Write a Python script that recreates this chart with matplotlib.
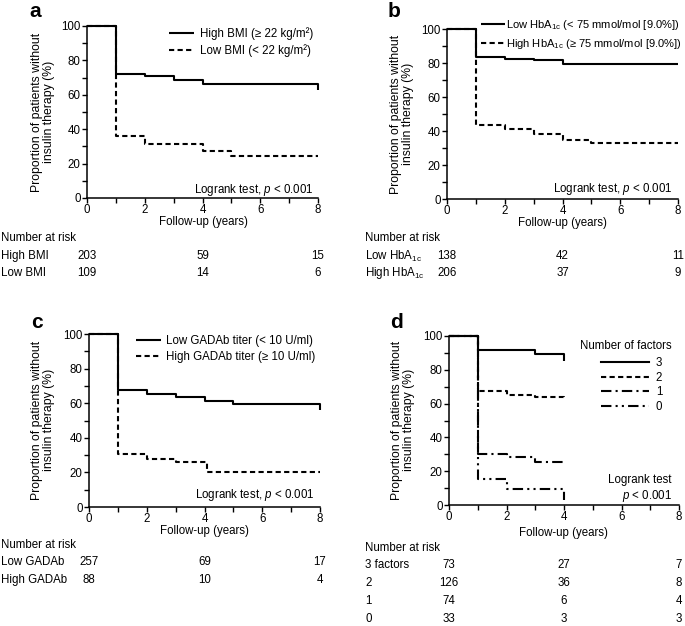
import matplotlib
matplotlib.use("Agg")
import matplotlib.pyplot as plt
from matplotlib.ticker import MultipleLocator
from matplotlib.transforms import blended_transform_factory
from matplotlib.lines import Line2D

plt.rcParams['font.family'] = ['Liberation Sans', 'DejaVu Sans']
plt.rcParams['mathtext.fontset'] = 'custom'
plt.rcParams['mathtext.rm'] = 'Liberation Sans'
plt.rcParams['mathtext.it'] = 'Liberation Sans:italic'
plt.rcParams['mathtext.bf'] = 'Liberation Sans:bold'

FS = 8.3
TFS = 8.3
YFS = 8.8
W, H = 685, 626

# ---------------- data ----------------
# Panel a (BMI)
a_high_t = [0, 1, 2, 3, 4, 8, 8]
a_high_s = [100, 72, 71, 68.5, 66.5, 66.5, 63]
a_low_t = [0, 1, 2, 4, 5, 8]
a_low_s = [100, 36, 31.5, 27.5, 24.5, 24.5]
a_risk_times = [0, 4, 8]
a_risk_labels = ["High BMI", "Low BMI"]
a_risk = [[203, 59, 15], [109, 14, 6]]

# Panel b (HbA1c)
b_low_t = [0, 1, 2, 3, 4, 8]
b_low_s = [100, 83.5, 82.5, 81.5, 79.5, 79.5]
b_high_t = [0, 1, 2, 3, 4, 5, 8]
b_high_s = [100, 43.5, 41, 38.5, 34.5, 33, 33]
b_risk_times = [0, 4, 8]
b_risk_labels = [r"Low HbA$_{\mathrm{1c}}$", r"High HbA$_{\mathrm{1c}}$"]
b_risk = [[138, 42, 11], [206, 37, 9]]

# Panel c (GADAb)
c_low_t = [0, 1, 2, 3, 4, 5, 8, 8]
c_low_s = [100, 67.5, 65.5, 63.5, 61, 59.5, 59.5, 56]
c_high_t = [0, 1, 2, 3, 4.1, 8]
c_high_s = [100, 30.5, 28, 26, 20.5, 20.5]
c_risk_times = [0, 4, 8]
c_risk_labels = ["Low GADAb", "High GADAb"]
c_risk = [[257, 69, 17], [88, 10, 4]]

# Panel d (number of factors)
d_t = {
    "3": [0, 1, 3, 4, 4],
    "2": [0, 1, 2, 3, 4, 4],
    "1": [0, 1, 2, 3, 4],
    "0": [0, 1, 2, 4, 4],
}
d_s = {
    "3": [100, 91.5, 89.5, 89.5, 85.5],
    "2": [100, 67.5, 65, 64, 64, 62.5],
    "1": [100, 30, 28.5, 25.5, 25.5],
    "0": [100, 15.5, 9.5, 9.5, 3],
}
d_risk_times = [0, 4, 8]
d_risk_labels = ["3 factors", "2", "1", "0"]
d_risk = [[73, 27, 7], [126, 36, 8], [74, 6, 4], [33, 3, 3]]

# ---------------- styles ----------------
LW = 1.5
DASH = (0, (2.5, 1.6))
DASHDOT = (0, (5, 2, 1, 2))
DASHDOTDOT = (0, (5, 2, 1, 2, 1, 2))

fig = plt.figure(figsize=(W / 100, H / 100), dpi=100)


def fx(x):
    return x / W


def fy(y):
    return 1 - y / H


def make_ax(x0, x1, y0, y1):
    ax = fig.add_axes([fx(x0), fy(y1), fx(x1) - fx(x0), (y1 - y0) / H])
    ax.set_xlim(0, 8)
    ax.set_ylim(0, 100)
    for s in ['top', 'right']:
        ax.spines[s].set_visible(False)
    for s in ['left', 'bottom']:
        ax.spines[s].set_linewidth(1.1)
    ax.xaxis.set_major_locator(MultipleLocator(2))
    ax.xaxis.set_minor_locator(MultipleLocator(1))
    ax.yaxis.set_major_locator(MultipleLocator(20))
    ax.yaxis.set_minor_locator(MultipleLocator(10))
    ax.tick_params(which='both', direction='out', length=3.5, width=1.0,
                   labelsize=TFS, pad=1.0)
    return ax


def common_text(ax, letter, lx, ly, ylx, yly, xlx, xly):
    fig.text(fx(lx), fy(ly), letter, fontsize=15, fontweight='bold',
             ha='left', va='top')
    fig.text(fx(ylx), fy(yly), "Proportion of patients without\ninsulin therapy (%)",
             rotation=90, ha='center', va='center', multialignment='center',
             fontsize=YFS, linespacing=1.05)
    fig.text(fx(xlx), fy(xly), "Follow-up (years)", ha='center', va='center',
             fontsize=TFS)


def risk_table(ax, labx, y_head, y_rows, labels, times, values):
    fig.text(fx(labx), fy(y_head), "Number at risk", ha='left', va='center',
             fontsize=FS)
    tr = blended_transform_factory(ax.transData, fig.transFigure)
    for lab, yy, vals in zip(labels, y_rows, values):
        fig.text(fx(labx), fy(yy), lab, ha='left', va='center', fontsize=FS)
        for t, v in zip(times, vals):
            fig.text(t, fy(yy), str(v), ha='center', va='center', fontsize=FS,
                     transform=tr)


def step(ax, t, s, ls, label=None, z=2):
    ax.plot(t, s, drawstyle='steps-post', color='black', lw=LW, ls=ls,
            label=label, zorder=z, clip_on=False, solid_capstyle='butt',
            dash_capstyle='butt')


# ---------------- panel a ----------------
axa = make_ax(87, 318, 26, 198)
step(axa, a_low_t, a_low_s, DASH, "Low BMI (< 22 kg/m²)", z=2)
step(axa, a_high_t, a_high_s, '-', "High BMI (≥ 22 kg/m²)", z=3)
h, l = axa.get_legend_handles_labels()
axa.legend(h[::-1], l[::-1], loc='upper left',
           bbox_to_anchor=(fx(169), fy(27)), bbox_transform=fig.transFigure,
           frameon=False, fontsize=FS, handlelength=2.2, handletextpad=0.45,
           labelspacing=0.4, borderpad=0, borderaxespad=0)
fig.text(fx(313), fy(190), "Logrank test, $p$ < 0.001", ha='right',
         va='center', fontsize=FS)
common_text(axa, "a", 29, 2, 43, 112, 203, 222)
risk_table(axa, 1, 238, [256, 273], a_risk_labels, a_risk_times, a_risk)

# ---------------- panel b ----------------
axb = make_ax(447, 678, 29, 199)
step(axb, b_high_t, b_high_s, DASH, r"High HbA$_{\mathrm{1c}}$ (≥ 75 mmol/mol [9.0%])", z=2)
step(axb, b_low_t, b_low_s, '-', r"Low HbA$_{\mathrm{1c}}$ (< 75 mmol/mol [9.0%])", z=3)
h, l = axb.get_legend_handles_labels()
axb.legend(h[::-1], l[::-1], loc='upper left',
           bbox_to_anchor=(fx(481), fy(18)), bbox_transform=fig.transFigure,
           frameon=False, fontsize=8.0, handlelength=2.15, handletextpad=0.12,
           labelspacing=0.45, borderpad=0, borderaxespad=0)
fig.text(fx(672), fy(189), "Logrank test, $p$ < 0.001", ha='right',
         va='center', fontsize=FS)
common_text(axb, "b", 388, 2, 402, 114, 562, 223)
risk_table(axb, 365, 238, [256, 273], b_risk_labels, b_risk_times, b_risk)

# ---------------- panel c ----------------
axc = make_ax(89, 320, 334, 507)
step(axc, c_high_t, c_high_s, DASH, "High GADAb titer (≥ 10 U/ml)", z=2)
step(axc, c_low_t, c_low_s, '-', "Low GADAb titer (< 10 U/ml)", z=3)
h, l = axc.get_legend_handles_labels()
axc.legend(h[::-1], l[::-1], loc='upper left',
           bbox_to_anchor=(fx(136), fy(335)), bbox_transform=fig.transFigure,
           frameon=False, fontsize=FS, handlelength=2.2, handletextpad=0.4,
           labelspacing=0.35, borderpad=0, borderaxespad=0)
fig.text(fx(314), fy(495), "Logrank test, $p$ < 0.001", ha='right',
         va='center', fontsize=FS)
common_text(axc, "c", 31, 313, 43, 420, 204, 531)
risk_table(axc, 1, 545, [562, 580], c_risk_labels, c_risk_times, c_risk)

# ---------------- panel d ----------------
axd = make_ax(449, 679, 336, 505)
d_styles = {"3": '-', "2": DASH, "1": DASHDOT, "0": DASHDOTDOT}
for z, k in enumerate(["0", "1", "2", "3"]):
    step(axd, d_t[k], d_s[k], d_styles[k], None, z=2 + z)
handles = [Line2D([], [], color='black', lw=LW, ls=d_styles[k],
                  dash_capstyle='butt') for k in ["3", "2", "1", "0"]]
axd.legend(handles, ["3", "2", "1", "0"], loc='upper left',
           bbox_to_anchor=(fx(601), fy(357)), bbox_transform=fig.transFigure,
           frameon=False, fontsize=FS, handlelength=4.2, handletextpad=0.55,
           labelspacing=0.22, borderpad=0, borderaxespad=0)
fig.text(fx(626), fy(346), "Number of factors", ha='center', va='center',
         fontsize=FS)
fig.text(fx(672), fy(489), "Logrank test\n$p$ < 0.001", ha='right',
         va='center', multialignment='right', fontsize=FS, linespacing=1.15)
common_text(axd, "d", 390, 313, 403, 420, 563, 533)
risk_table(axd, 365, 548, [565, 583, 601, 619], d_risk_labels, d_risk_times, d_risk)

fig.savefig("out.png", dpi=100)
